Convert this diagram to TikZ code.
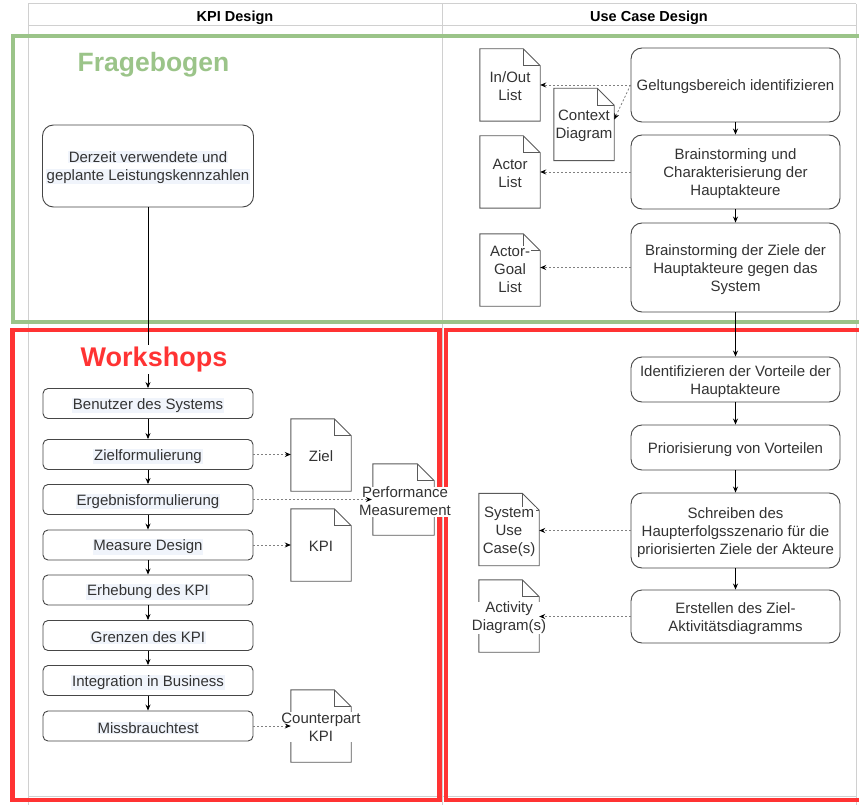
\documentclass[tikz,border=0pt]{standalone}
\usepackage{fontspec}
\setmainfont{Liberation Sans}
\usetikzlibrary{arrows.meta}
\definecolor{gridc}{RGB}{208,208,208}
\definecolor{grn}{RGB}{155,196,137}
\definecolor{rd}{RGB}{255,51,51}
\definecolor{txt}{RGB}{51,51,51}
\definecolor{boxc}{RGB}{70,70,70}
\definecolor{docc}{RGB}{90,90,90}
\definecolor{hlc}{RGB}{240,244,251}
\newcommand{\hlbox}[1]{{\setlength{\fboxsep}{0.8pt}\colorbox{hlc}{#1}}}
\newcommand{\fs}{\fontsize{15}{18}\selectfont}
\newcommand{\dn}{\rule{0pt}{15pt}}
\newcommand{\dnl}{\rule{0pt}{15.5pt}}
\begin{document}
\begin{tikzpicture}[x=1pt,y=-1pt,
  box/.style={draw=boxc, line width=0.9pt, rounded corners=11pt, fill=white, text=txt, align=center, font=\fs, minimum width=209pt, inner sep=0pt},
  lbox/.style={draw=boxc, line width=0.9pt, rounded corners=5pt, fill=white, text=txt, font=\fs, minimum width=210pt, minimum height=30pt, inner sep=0pt},
  docbox/.style={minimum width=60pt, minimum height=72pt, inner sep=0pt},
  doclbl/.style={fill=white, text=txt, font=\fs, align=center, inner sep=0.5pt},
  docline/.style={draw=docc, line width=0.9pt, line join=miter},
  arr/.style={draw=black, line width=0.8pt, -{Stealth[length=6pt,width=5pt]}},
  darr/.style={draw=gray, line width=0.8pt, dash pattern=on 2pt off 2pt, -{Stealth[length=6pt,width=5pt,color=black]}},
  hdr/.style={font=\fontsize{14.5}{17}\selectfont\bfseries, text=black},
]
\useasboundingbox (0,0) rectangle (859,805);
\fill[white] (0,0) rectangle (859,805);
% table grid
\begin{scope}[gridc, line width=1pt]
  \draw (28,4) -- (856,4);
  \draw (28,26) -- (856,26);
  \draw (28,36) -- (856,36);
  \draw (28,796) -- (856,796);
  \draw (28,4) -- (28,805);
  \draw (442,4) -- (442,805);
  \draw (856,4) -- (856,805);
\end{scope}
\node[hdr] (h1) at (235,17.5) {KPI Design};
\node[hdr] (h2) at (649,17.5) {Use Case Design};
% lane frames
\draw[grn, line width=4pt] (12.5,36) rectangle (875,322);
\draw[rd, line width=4.5pt] (12.5,330) rectangle (439.5,800);
\draw[rd, line width=4pt] (445.5,330) rectangle (875,800);
\node[font=\fontsize{26.5}{30}\selectfont\bfseries, text=grn] (frage) at (153.5,64.5) {Fragebogen};
% left column boxes
\node[box, minimum width=211pt, minimum height=82pt] (derzeit) at (148,166) {\dn\hlbox{Derzeit verwendete und}\\\hlbox{geplante Leistungskennzahlen}};
\node[lbox] (benutzer) at (148,403.5) {\dnl\hlbox{Benutzer des Systems}};
\node[lbox] (zielf) at (148,454.5) {\dnl\hlbox{Zielformulierung}};
\node[lbox] (ergeb) at (148,499.5) {\dnl\hlbox{Ergebnisformulierung}};
\node[lbox] (measure) at (148,545) {\dnl\hlbox{Measure Design}};
\node[lbox] (erheb) at (148,590) {\dnl\hlbox{Erhebung des KPI}};
\node[lbox] (grenz) at (148,635.5) {\dnl\hlbox{Grenzen des KPI}};
\node[lbox] (integ) at (148,680.5) {\dnl\hlbox{Integration in Business}};
\node[lbox] (miss) at (148,726) {\dnl\hlbox{Missbrauchtest}};
% right column boxes
\node[box, minimum height=74pt] (gelt) at (735.5,85) {\dn Geltungsbereich identifizieren};
\node[box, minimum height=74pt] (brain1) at (735.5,172) {\dn Brainstorming und\\Charakterisierung der\\Hauptakteure};
\node[box, minimum height=89pt] (brain2) at (735.5,267.5) {\dn Brainstorming der Ziele der\\Hauptakteure gegen das\\System};
\node[box, minimum height=45pt] (ident) at (735.5,379.5) {\dn Identifizieren der Vorteile der\\Hauptakteure};
\node[box, minimum height=45pt] (prio) at (735.5,447.5) {\dn Priorisierung von Vorteilen};
\node[box, minimum height=75pt] (schreib) at (735.5,530.5) {\dn Schreiben des\\Haupterfolgsszenario für die\\priorisierten Ziele der Akteure};
\node[box, minimum height=53pt] (erst) at (735.5,616.5) {\dn Erstellen des Ziel-\\Aktivitätsdiagramms};
% document shapes
\node[docbox] (inout) at (510,85) {};
\node[docbox] (ctx) at (584,124.5) {};
\node[docbox] (actor) at (510,172) {};
\node[docbox] (actorgoal) at (510,270) {};
\node[docbox] (sysuc) at (509,529.5) {};
\node[docbox] (activity) at (509,616) {};
\node[docbox] (ziel) at (321,455) {};
\node[docbox] (kpi) at (321,545) {};
\node[docbox, minimum width=61pt, minimum height=71pt] (perf) at (403.5,499.5) {};
\node[docbox] (counter) at (321,726) {};
\foreach \n in {inout,ctx,actor,actorgoal,sysuc,activity,ziel,kpi,perf,counter}{
  \fill[white] (\n.north west) -- ([xshift=-17pt]\n.north east) -- ([yshift=-17pt]\n.north east) -- (\n.south east) -- (\n.south west) -- cycle;
  \draw[docline] (\n.north west) -- ([xshift=-17pt]\n.north east) -- ([yshift=-17pt]\n.north east) -- (\n.south east) -- (\n.south west) -- cycle;
  \draw[docline] ([xshift=-17pt]\n.north east) -- ([xshift=-17pt,yshift=-17pt]\n.north east) -- ([yshift=-17pt]\n.north east);
}
% connector under the Workshops title
\draw[arr] (derzeit.south) -- (benutzer.north);
\node[font=\fontsize{27}{30}\selectfont\bfseries, text=rd, fill=white, inner sep=2pt] (works) at (154,359.5) {Workshops};
% document labels
\node[doclbl] (inoutL) at (510,86) {In/Out\\List};
\node[doclbl] (ctxL) at (584,125.5) {Context\\Diagram};
\node[doclbl] (actorL) at (510,173) {Actor\\List};
\node[doclbl] (actorgoalL) at (510,269.5) {Actor-\\Goal\\List};
\node[doclbl] (sysucL) at (509,532) {System\\Use\\Case(s)};
\node[doclbl] (activityL) at (509,618) {Activity\\Diagram(s)};
\node[doclbl] (zielL) at (321,456) {Ziel};
\node[doclbl] (kpiL) at (321,546) {KPI};
\node[doclbl] (perfL) at (405,501.5) {Performance\\Measurement};
\node[doclbl] (counterL) at (321,727) {Counterpart\\KPI};
% solid flow connectors
\draw[arr] (benutzer.south) -- (zielf.north);
\draw[arr] (zielf.south) -- (ergeb.north);
\draw[arr] (ergeb.south) -- (measure.north);
\draw[arr] (measure.south) -- (erheb.north);
\draw[arr] (erheb.south) -- (grenz.north);
\draw[arr] (grenz.south) -- (integ.north);
\draw[arr] (integ.south) -- (miss.north);
\draw[arr] (gelt.south) -- (brain1.north);
\draw[arr] (brain1.south) -- (brain2.north);
\draw[arr] (brain2.south) -- (ident.north);
\draw[arr] (ident.south) -- (prio.north);
\draw[arr] (prio.south) -- (schreib.north);
\draw[arr] (schreib.south) -- (erst.north);
% dashed output connectors
\draw[darr] (gelt.west) -- (gelt.west -| inout.east);
\draw[darr] (gelt.west) -- ([yshift=5pt]ctx.east);
\draw[darr] (brain1.west) -- (brain1.west -| actor.east);
\draw[darr] (brain2.west) -- (brain2.west -| actorgoal.east);
\draw[darr] (schreib.west) -- (schreib.west -| sysuc.east);
\draw[darr] (erst.west) -- (erst.west -| activity.east);
\draw[darr] (zielf.east) -- (zielf.east -| ziel.west);
\draw[darr] (ergeb.east) -- ([xshift=-1pt]ergeb.east -| perf.west);
\draw[darr] (measure.east) -- (measure.east -| kpi.west);
\draw[darr] (miss.east) -- (miss.east -| counter.west);
\end{tikzpicture}
\end{document}
